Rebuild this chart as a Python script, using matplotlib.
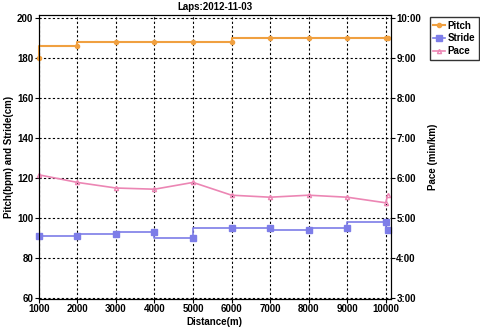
import matplotlib
matplotlib.use('Agg')
import matplotlib.pyplot as plt
from matplotlib.ticker import FuncFormatter

plt.rcParams['font.family'] = ['Liberation Sans', 'DejaVu Sans']
plt.rcParams['font.weight'] = 'bold'

distance = [1000, 2000, 3000, 4000, 5000, 6000, 7000, 8000, 9000, 10000, 10050]
pitch = [180, 186, 188, 188, 188, 188, 190, 190, 190, 190, 190]
stride = [91, 91, 92, 93, 90, 95, 95, 94, 95, 98, 94]
pace = [6.08, 5.89, 5.75, 5.72, 5.89, 5.57, 5.52, 5.57, 5.52, 5.38, 5.57]  # min/km

x_ticks = [1000, 2000, 3000, 4000, 5000, 6000, 7000, 8000, 9000, 10000]
y_ticks = [60, 80, 100, 120, 140, 160, 180, 200]
pace_ticks = [3, 4, 5, 6, 7, 8, 9, 10]

c_pitch = '#f0a040'
c_stride = '#7d7de8'
c_pace = '#ec86b4'

fig = plt.figure(figsize=(4.8, 3.29), dpi=100)
ax = fig.add_axes([0.081, 0.092, 0.733, 0.862])

ax.plot(distance, pitch, drawstyle='steps-pre', color=c_pitch, lw=1.5,
        marker='o', ms=3, label='Pitch', clip_on=False, zorder=5)
ax.plot(distance, stride, drawstyle='steps-pre', color=c_stride, lw=1.2,
        marker='s', ms=4, label='Stride', clip_on=False, zorder=5)

ax.set_xlim(1000, 10130)
ax.set_ylim(59.6, 201.5)
ax.set_xticks(x_ticks)
ax.set_yticks(y_ticks)
ax.tick_params(labelsize=7, length=3, pad=1)
ax.grid(True, color='black', linestyle=(0, (2, 2)), lw=0.8)
ax.set_xlabel('Distance(m)', fontsize=7, fontweight='bold', labelpad=2)
ax.set_ylabel('Pitch(bpm) and Stride(cm)', fontsize=7, fontweight='bold', labelpad=2)
ax.set_title('Laps:2012-11-03', fontsize=7, fontweight='bold', pad=4)

ax2 = ax.twinx()
ax2.plot(distance, pace, color=c_pace, lw=1.2, marker='^', ms=3,
         mfc='none', label='Pace', clip_on=False)
ax2.set_ylim(3 + (59.6 - 60) / 20, 3 + (201.5 - 60) / 20)
ax2.set_yticks(pace_ticks)
ax2.yaxis.set_major_formatter(FuncFormatter(lambda v, p: '%d:00' % round(v)))
ax2.tick_params(labelsize=7, length=3, pad=1)
ax2.set_ylabel('Pace (min/km)', fontsize=7, fontweight='bold', labelpad=5)

h1, l1 = ax.get_legend_handles_labels()
h2, l2 = ax2.get_legend_handles_labels()
fig.legend(h1 + h2, l1 + l2, loc='upper left', bbox_to_anchor=(0.895, 0.948),
           borderaxespad=0, fontsize=7, frameon=True, fancybox=False,
           edgecolor='black', handlelength=1.2, handletextpad=0.3,
           borderpad=0.35, labelspacing=0.3)

fig.savefig('out.png', dpi=100)
